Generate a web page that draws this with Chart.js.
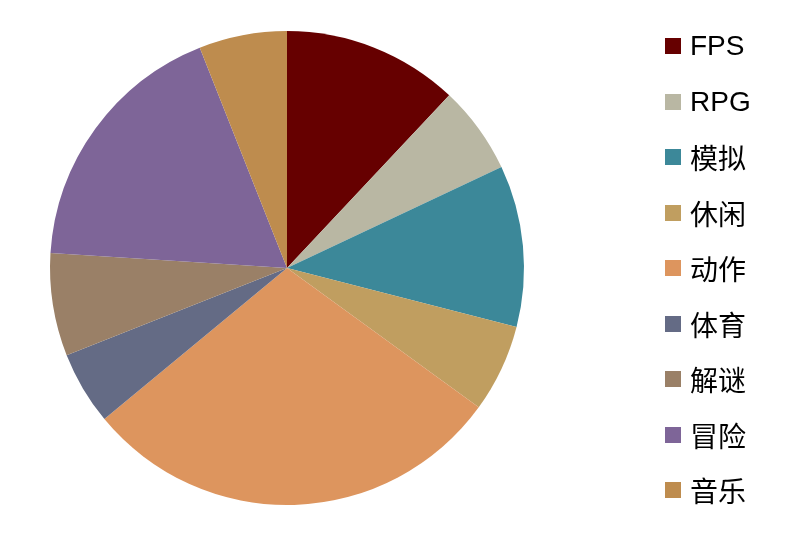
<!DOCTYPE html>
<html>
<head>
<meta charset="utf-8">
<script src="https://cdn.jsdelivr.net/npm/chart.js@4/dist/chart.umd.min.js"></script>
<style>
  html, body { margin: 0; padding: 0; background: #ffffff; }
  #wrap { position: relative; width: 800px; height: 538px; }
  #c { position: absolute; left: 0; top: 0; }
  #legend { position: absolute; left: 665px; top: 0; margin: 0; padding: 0; list-style: none;
    font-family: "Liberation Sans", "Noto Sans CJK SC", sans-serif; font-size: 28px; color: #000; }
  #legend li { position: absolute; left: 0; height: 32px; display: flex; align-items: center; white-space: nowrap; }
  #legend .sw { width: 16px; height: 16px; margin-right: 9px; flex: none; }
</style>
</head>
<body>
<div id="wrap">
  <canvas id="c" width="800" height="538"></canvas>
  <ul id="legend"></ul>
</div>
<script>
const categories = ["FPS", "RPG", "模拟", "休闲", "动作", "体育", "解谜", "冒险", "音乐"];
const shares = [12, 6, 11, 6, 29, 5, 7, 18, 6];
const colors = ["#660000", "#B9B7A3", "#3C8899", "#C09E60", "#DD955E", "#646B85", "#9A8067", "#7E6598", "#BE8C4E"];

new Chart(document.getElementById("c"), {
  type: "pie",
  data: {
    labels: categories,
    datasets: [{ data: shares, backgroundColor: colors, borderWidth: 0 }]
  },
  options: {
    responsive: false,
    animation: false,
    layout: { padding: { left: 50, right: 276, top: 31, bottom: 33 } },
    plugins: { legend: { display: false }, tooltip: { enabled: false } }
  }
});

const legend = document.getElementById("legend");
categories.forEach((name, i) => {
  const li = document.createElement("li");
  li.style.top = (30 + i * 55.5) + "px";
  const sw = document.createElement("span");
  sw.className = "sw";
  sw.style.background = colors[i];
  const tx = document.createElement("span");
  tx.textContent = name;
  li.appendChild(sw);
  li.appendChild(tx);
  legend.appendChild(li);
});
</script>
</body>
</html>
